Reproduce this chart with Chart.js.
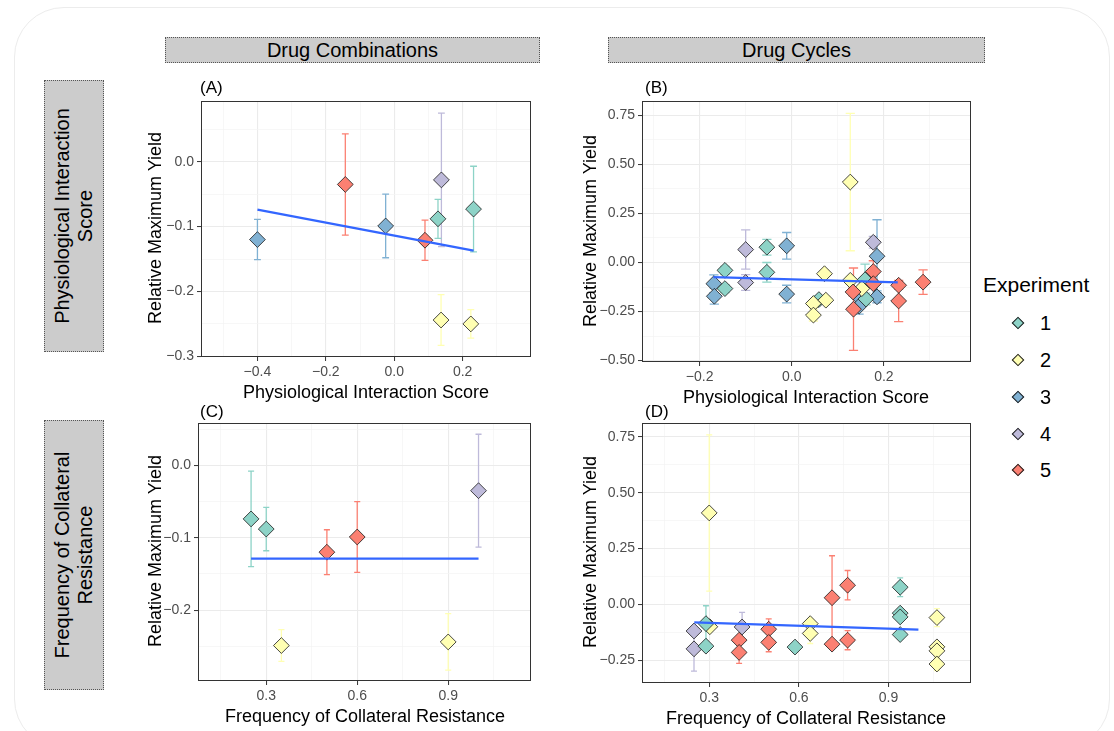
<!DOCTYPE html>
<html>
<head>
<meta charset="utf-8">
<script src="https://cdn.jsdelivr.net/npm/chart.js@4.4.0/dist/chart.umd.min.js"></script>
<style>
    body { margin: 0; background: #ffffff; font-family: "Liberation Sans", Arial, sans-serif; }
    #page { position: relative; width: 1114px; height: 731px; overflow: hidden; }
    .frame { position: absolute; left: 14px; top: 7px; width: 1094px; height: 740px; border: 1px solid #ececec; border-radius: 50px; }
    .strip { position: absolute; background: #cccccc; border: 1px dotted #555555; box-sizing: border-box; display: flex; align-items: center; justify-content: center; font-size: 20px; color: #000; text-align: center; line-height: 1.15; }
    .vtext { transform: rotate(-90deg); white-space: nowrap; }
    .lbl { position: absolute; white-space: nowrap; color: #000; }
    .panel { position: absolute; }
    .key { position: absolute; width: 7px; height: 7px; border: 1px solid #1a1a1a; transform: translate(-50%, -50%) rotate(45deg); }
</style>
</head>
<body>
<div id="page">
    <div class="frame"></div>

    <div class="strip" style="left:165px;top:37px;width:375px;height:26px;">Drug Combinations</div>
    <div class="strip" style="left:608px;top:37px;width:377px;height:26px;">Drug Cycles</div>
    <div class="strip" style="left:44px;top:80px;width:60px;height:272px;"><div class="vtext">Physiological Interaction<br>Score</div></div>
    <div class="strip" style="left:44px;top:420px;width:60px;height:270px;"><div class="vtext">Frequency of Collateral<br>Resistance</div></div>

    <div class="panel" id="panelA"><canvas id="chartA"></canvas></div>
    <div class="panel" id="panelB"><canvas id="chartB"></canvas></div>
    <div class="panel" id="panelC"><canvas id="chartC"></canvas></div>
    <div class="panel" id="panelD"><canvas id="chartD"></canvas></div>

    <div id="labels"></div>
    <div id="legend"></div>
</div>

<script>
// experiment colours (legend order)
const expNames = ["1", "2", "3", "4", "5"];
const expColors = ["#8DD3C7", "#FFFFB3", "#80B1D3", "#BEBADA", "#FB8072"];

// (A) drug combinations ~ physiological interaction score
const comboPhysExp = [3, 5, 3, 5, 1, 4, 1, 2, 2];
const comboPhysX = [-0.4, -0.143, -0.025, 0.09, 0.128, 0.138, 0.232, 0.137, 0.224];
const comboPhysY = [-0.12, -0.035, -0.099, -0.121, -0.088, -0.028, -0.073, -0.244, -0.25];
const comboPhysErr = [0.031, 0.078, 0.049, 0.031, 0.03, 0.103, 0.066, 0.039, 0.022];
const comboPhysFitX = [-0.4, 0.232];
const comboPhysFitY = [-0.074, -0.137];

// (B) drug cycles ~ physiological interaction score
const cyclePhysExp = [3, 3, 3, 3, 3, 3, 3, 3,
    1, 1, 1, 1, 1, 1, 1,
    4, 4, 4,
    2, 2, 2, 2, 2, 2, 2,
    5, 5, 5, 5, 5, 5, 5];
const cyclePhysX = [-0.169, -0.168, -0.011, -0.011, 0.185, 0.145, 0.185, 0.146,
    -0.145, -0.145, -0.054, -0.054, 0.059, 0.159, 0.161,
    -0.1, -0.1, 0.177,
    0.071, 0.047, 0.074, 0.047, 0.127, 0.127, 0.152,
    0.177, 0.133, 0.134, 0.177, 0.232, 0.232, 0.285];
const cyclePhysY = [-0.108, -0.172, 0.085, -0.161, 0.032, -0.175, -0.175, -0.223,
    -0.04, -0.133, 0.078, -0.05, -0.189, -0.088, -0.186,
    0.066, -0.102, 0.103,
    -0.057, -0.209, -0.192, -0.268, 0.41, -0.091, -0.133,
    -0.046, -0.15, -0.238, -0.108, -0.116, -0.196, -0.1];
const cyclePhysErr = [0.045, 0.04, 0.068, 0.045, 0.186, 0.03, 0.03, 0.04,
    0.02, 0.02, 0.04, 0.05, 0.02, 0.08, 0.03,
    0.1, 0.04, 0.03,
    0.02, 0.02, 0.02, 0.03, 0.35, 0.02, 0.02,
    0.055, 0.02, 0.21, 0.02, 0.02, 0.105, 0.062];
const cyclePhysFitX = [-0.17, 0.23];
const cyclePhysFitY = [-0.074, -0.101];

// (C) drug combinations ~ frequency of collateral resistance
const comboFreqExp = [1, 1, 2, 5, 5, 2, 4];
const comboFreqX = [0.25, 0.3, 0.35, 0.5, 0.6, 0.9, 1.0];
const comboFreqY = [-0.074, -0.088, -0.249, -0.12, -0.099, -0.244, -0.035];
const comboFreqErr = [0.066, 0.03, 0.022, 0.031, 0.049, 0.039, 0.078];
const comboFreqFitX = [0.25, 1.0];
const comboFreqFitY = [-0.129, -0.129];

// (D) drug cycles ~ frequency of collateral resistance
const cycleFreqExp = [2, 2, 2, 2, 2, 2, 2, 2,
    4, 4, 4,
    1, 1, 1, 1, 1, 1, 1,
    5, 5, 5, 5, 5, 5, 5, 5];
const cycleFreqX = [0.3, 0.302, 0.638, 0.638, 1.062, 1.062, 1.062, 1.062,
    0.249, 0.249, 0.41,
    0.289, 0.289, 0.587, 0.939, 0.939, 0.939, 0.939,
    0.4, 0.4, 0.499, 0.499, 0.711, 0.711, 0.763, 0.763];
const cycleFreqY = [0.41, -0.1, -0.086, -0.13, -0.059, -0.19, -0.208, -0.267,
    -0.119, -0.199, -0.101,
    -0.086, -0.187, -0.191, 0.077, -0.039, -0.056, -0.135,
    -0.16, -0.215, -0.111, -0.17, 0.03, -0.178, 0.086, -0.16];
const cycleFreqErr = [0.35, 0.02, 0.02, 0.045, 0.04, 0.02, 0.02, 0.03,
    0.02, 0.1, 0.065,
    0.08, 0.02, 0.02, 0.042, 0.02, 0.02, 0.02,
    0.02, 0.049, 0.046, 0.042, 0.188, 0.02, 0.066, 0.043];
const cycleFreqFitX = [0.25, 1.0];
const cycleFreqFitY = [-0.08, -0.113];

// tick labels
const physComboTicks = [-0.4, -0.2, 0, 0.2];
const physComboLabels = ["\u22120.4", "\u22120.2", "0.0", "0.2"];
const physComboMinor = [-0.5, -0.3, -0.1, 0.1, 0.3];
const physCycleTicks = [-0.2, 0, 0.2];
const physCycleLabels = ["\u22120.2", "0.0", "0.2"];
const physCycleMinor = [-0.3, -0.1, 0.1, 0.3];
const freqTicks = [0.3, 0.6, 0.9];
const freqLabels = ["0.3", "0.6", "0.9"];
const freqMinor = [0.15, 0.45, 0.75, 1.05];
const yieldATicks = [-0.3, -0.2, -0.1, 0];
const yieldALabels = ["\u22120.3", "\u22120.2", "\u22120.1", "0.0"];
const yieldAMinor = [-0.25, -0.15, -0.05, 0.05];
const yieldBTicks = [-0.5, -0.25, 0, 0.25, 0.5, 0.75];
const yieldBLabels = ["\u22120.50", "\u22120.25", "0.00", "0.25", "0.50", "0.75"];
const yieldBMinor = [-0.375, -0.125, 0.125, 0.375, 0.625];
const yieldCTicks = [-0.2, -0.1, 0];
const yieldCLabels = ["\u22120.2", "\u22120.1", "0.0"];
const yieldCMinor = [-0.25, -0.15, -0.05, 0.05];
const yieldDTicks = [-0.25, 0, 0.25, 0.5, 0.75];
const yieldDLabels = ["\u22120.25", "0.00", "0.25", "0.50", "0.75"];
const yieldDMinor = [-0.125, 0.125, 0.375, 0.625];

const CAP = 0.01;     // half width of error bar caps (data units)
const YW = 60;        // y axis box width
const XH = 28;        // x axis box height
const PAD = 10;

Chart.defaults.font.family = "'Liberation Sans', Arial, sans-serif";

document.addEventListener("DOMContentLoaded", function () {
    setCharts();
    setLabels();
    setLegend();
});

function setCharts() {
    drawPanel("A", { left: 201, top: 100, w: 330, h: 257 }, [-0.565, 0.4], [-0.301, 0.093],
        [physComboTicks, physComboLabels, physComboMinor], [yieldATicks, yieldALabels, yieldAMinor],
        comboPhysExp, comboPhysX, comboPhysY, comboPhysErr, comboPhysFitX, comboPhysFitY);
    drawPanel("B", { left: 642, top: 100, w: 329, h: 262 }, [-0.325, 0.389], [-0.507, 0.821],
        [physCycleTicks, physCycleLabels, physCycleMinor], [yieldBTicks, yieldBLabels, yieldBMinor],
        cyclePhysExp, cyclePhysX, cyclePhysY, cyclePhysErr, cyclePhysFitX, cyclePhysFitY);
    drawPanel("C", { left: 198, top: 422, w: 333, h: 259 }, [0.075, 1.173], [-0.298, 0.058],
        [freqTicks, freqLabels, freqMinor], [yieldCTicks, yieldCLabels, yieldCMinor],
        comboFreqExp, comboFreqX, comboFreqY, comboFreqErr, comboFreqFitX, comboFreqFitY);
    drawPanel("D", { left: 642, top: 422, w: 329, h: 261 }, [0.075, 1.176], [-0.352, 0.811],
        [freqTicks, freqLabels, freqMinor], [yieldDTicks, yieldDLabels, yieldDMinor],
        cycleFreqExp, cycleFreqX, cycleFreqY, cycleFreqErr, cycleFreqFitX, cycleFreqFitY);
}

// build errorbar segments for one experiment, gaps between segments
function errorBarPoints(exps, xs, ys, errs, exp) {
    const pts = [];
    xs.forEach((x, i) => {
        if (exps[i] !== exp) return;
        const lo = ys[i] - errs[i];
        const hi = ys[i] + errs[i];
        pts.push({ x: x, y: lo }, { x: x, y: hi }, { x: x, y: null });
        pts.push({ x: x - CAP, y: hi }, { x: x + CAP, y: hi }, { x: x, y: null });
        pts.push({ x: x - CAP, y: lo }, { x: x + CAP, y: lo }, { x: x, y: null });
    });
    return pts;
}

function axisOptions(range, tickSet, isX) {
    const [major, labels, minor] = tickSet;
    return {
        type: "linear",
        min: range[0],
        max: range[1],
        afterBuildTicks: scale => {
            scale.ticks = minor.concat(major).sort((a, b) => a - b).map(v => ({ value: v, isMajor: major.includes(v) }));
        },
        afterFit: scale => {
            if (isX) scale.height = XH;
            else scale.width = YW;
        },
        border: { display: false },
        grid: {
            color: ctx => (ctx.tick && ctx.tick.isMajor ? "#ebebeb" : "#f3f3f3"),
            lineWidth: ctx => (ctx.tick && ctx.tick.isMajor ? 1.1 : 0.7),
            tickColor: ctx => (ctx.tick && ctx.tick.isMajor ? "#333333" : "rgba(0,0,0,0)"),
            tickLength: 4,
            tickWidth: 1,
        },
        ticks: {
            autoSkip: false,
            maxRotation: 0,
            padding: 3,
            color: "#4d4d4d",
            font: { size: 14 },
            callback: value => {
                const i = major.indexOf(value);
                return i >= 0 ? labels[i] : "";
            },
        },
    };
}

const panelBorder = {
    id: "panelBorder",
    afterDraw: chart => {
        const a = chart.chartArea;
        const ctx = chart.ctx;
        ctx.save();
        ctx.strokeStyle = "#333333";
        ctx.lineWidth = 1;
        ctx.strokeRect(Math.round(a.left) + 0.5, Math.round(a.top) + 0.5, Math.round(a.right - a.left) - 1, Math.round(a.bottom - a.top) - 1);
        ctx.restore();
    },
};

function drawPanel(id, box, xRange, yRange, xTicks, yTicks, exps, xs, ys, errs, fitX, fitY) {
    const holder = document.getElementById("panel" + id);
    const canvas = document.getElementById("chart" + id);
    const width = YW + box.w + PAD;
    const height = PAD + box.h + XH;
    holder.style.left = box.left - YW + "px";
    holder.style.top = box.top - PAD + "px";
    canvas.width = width;
    canvas.height = height;
    canvas.style.width = width + "px";
    canvas.style.height = height + "px";

    const datasets = [];

    // fitted line on top
    datasets.push({
        type: "line",
        data: fitX.map((x, i) => ({ x: x, y: fitY[i] })),
        borderColor: "#3366FF",
        borderWidth: 2.3,
        pointRadius: 0,
        fill: false,
        order: 0,
    });

    // points
    datasets.push({
        type: "scatter",
        data: xs.map((x, i) => ({ x: x, y: ys[i] })),
        pointStyle: "rectRot",
        pointRadius: 7.9,
        pointHoverRadius: 7.9,
        backgroundColor: ctx => expColors[exps[ctx.dataIndex] - 1],
        borderColor: "#1a1a1a",
        borderWidth: 0.8,
        order: 1,
    });

    // error bars
    expNames.forEach((name, k) => {
        const pts = errorBarPoints(exps, xs, ys, errs, k + 1);
        if (!pts.length) return;
        datasets.push({
            type: "line",
            data: pts,
            borderColor: expColors[k],
            borderWidth: 1.3,
            pointRadius: 0,
            spanGaps: false,
            fill: false,
            order: 2,
        });
    });

    new Chart(canvas.getContext("2d"), {
        type: "scatter",
        data: { datasets: datasets },
        options: {
            responsive: false,
            animation: false,
            devicePixelRatio: 1,
            layout: { padding: { top: PAD, right: PAD, left: 0, bottom: 0 } },
            plugins: { legend: { display: false }, tooltip: { enabled: false } },
            events: [],
            scales: {
                x: axisOptions(xRange, xTicks, true),
                y: axisOptions(yRange, yTicks, false),
            },
        },
        plugins: [panelBorder],
    });
}

function addLabel(text, x, y, size, rotate, anchorLeft) {
    const el = document.createElement("div");
    el.className = "lbl";
    el.textContent = text;
    el.style.left = x + "px";
    el.style.top = y + "px";
    el.style.fontSize = size + "px";
    const shift = anchorLeft ? "translate(0, -50%)" : "translate(-50%, -50%)";
    el.style.transform = shift + (rotate ? " rotate(-90deg)" : "");
    document.getElementById("labels").appendChild(el);
}

function setLabels() {
    addLabel("(A)", 200, 88, 17, false, true);
    addLabel("(B)", 645, 88, 17, false, true);
    addLabel("(C)", 200, 412, 17, false, true);
    addLabel("(D)", 645, 412, 17, false, true);

    addLabel("Physiological Interaction Score", 366, 392, 18, false, false);
    addLabel("Physiological Interaction Score", 806, 397, 18, false, false);
    addLabel("Frequency of Collateral Resistance", 365, 716, 18, false, false);
    addLabel("Frequency of Collateral Resistance", 806, 718, 18, false, false);

    addLabel("Relative Maximum Yield", 155, 228, 18, true, false);
    addLabel("Relative Maximum Yield", 590, 231, 18, true, false);
    addLabel("Relative Maximum Yield", 155, 551, 18, true, false);
    addLabel("Relative Maximum Yield", 590, 552, 18, true, false);
}

function setLegend() {
    const legend = document.getElementById("legend");
    addLabel("Experiment", 983, 285, 21, false, true);
    const rowY = [323, 360, 397, 434, 470];
    expNames.forEach((name, i) => {
        const key = document.createElement("div");
        key.className = "key";
        key.style.left = "1018px";
        key.style.top = rowY[i] + "px";
        key.style.background = expColors[i];
        legend.appendChild(key);
        addLabel(name, 1040, rowY[i], 20, false, true);
    });
}
</script>
</body>
</html>
